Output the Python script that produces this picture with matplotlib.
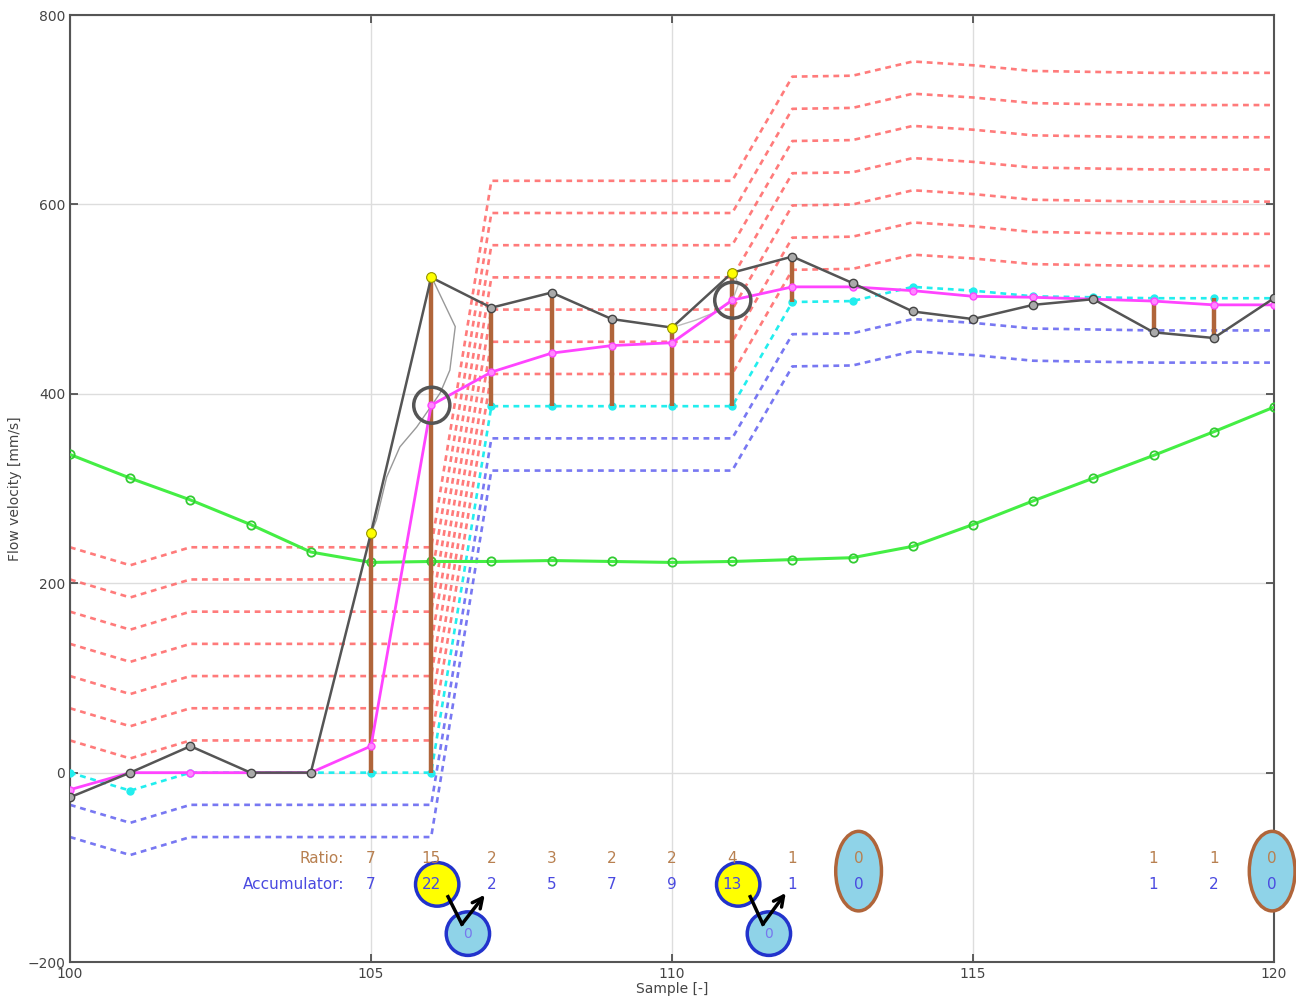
import matplotlib
matplotlib.use('Agg')
import matplotlib.pyplot as plt
from matplotlib.patches import Ellipse
import numpy as np

samples = np.arange(100, 121)

measured = [-26, 0, 28, 0, 0, 253, 523, 491, 507, 479, 470,
            528, 545, 517, 487, 479, 494, 500, 465, 459, 501]
filtered = [-18, 0, 0, 0, 0, 28, 388, 423, 443, 451, 454,
            499, 513, 513, 509, 503, 502, 500, 498, 494, 494]
reference = [0, -19, 0, 0, 0, 0, 0, 387, 387, 387, 387,
             387, 497, 498, 513, 509, 503, 502, 501, 501, 501]
green_vals = [336, 311, 288, 262, 233, 222, 223, 223, 224, 223, 222,
              223, 225, 227, 239, 262, 287, 311, 335, 360, 386]
band_step = 34
n_upper = 7
n_lower = 2

# samples where measured value is flagged (yellow)
flagged = [105, 106, 110, 111]
# stems between reference and measured
stem_samples = [105, 106, 107, 108, 109, 110, 111, 112, 118, 119]

ratio_x = [105, 106, 107, 108, 109, 110, 111, 112, 118, 119]
ratio_vals = ['7', '15', '2', '3', '2', '2', '4', '1', '1', '1']
accum_vals = ['7', '22', '2', '5', '7', '9', '13', '1', '1', '2']
zero_x = [113.1, 119.97]

# thin spline traces
spline_a_x = [105.01, 105.09, 105.26, 105.48, 105.76, 106.01, 106.15, 106.31, 106.40, 106.01]
spline_a_y = [254, 267, 312, 344, 365, 388, 401, 425, 471, 523]
spline_b_x = [110.0, 110.4, 110.75, 111.0, 111.1, 111.05]
spline_b_y = [470, 478, 487, 498, 515, 525]

# reset-arrows: (start, bottom, end)
arrow_pts = [[(106.28, -131), (106.51, -160), (106.89, -129)],
             [(111.30, -131), (111.51, -160), (111.89, -127)]]
reset_from = [(106.10, -118), (111.10, -118)]
reset_to = [(106.61, -170), (111.61, -170)]
marked = [106, 111]

RED = '#ff6464'
BLUE = '#6060f0'
CYAN = '#22eeee'
GREEN = '#44ee44'
MAGENTA = '#ff44ff'
BROWN = '#b0653a'
TXT_BROWN = '#b88050'
TXT_BLUE = '#4a4ae0'

fig = plt.figure(figsize=(12.96, 10.06), dpi=100)
ax = fig.add_axes([0.054, 0.0437, 0.929, 0.9413])

ref = np.array(reference, dtype=float)
dots = (0, (2.2, 1.8))
for k in range(1, n_upper + 1):
    ax.plot(samples, ref + k * band_step, color=RED, lw=1.9, ls=dots, alpha=0.85, zorder=2)
for k in range(1, n_lower + 1):
    ax.plot(samples, ref - k * band_step, color=BLUE, lw=1.9, ls=dots, alpha=0.85, zorder=2)

ax.plot(samples, reference, color=CYAN, lw=1.9, ls=dots, marker='o', ms=5,
        mfc=CYAN, mec=CYAN, zorder=3)

ax.plot(samples, green_vals, color=GREEN, lw=2.2, marker='o', ms=6,
        mfc='none', mec='#33cc33', mew=1.3, zorder=3)

meas = np.array(measured, dtype=float)
for s in stem_samples:
    i = s - 100
    ax.plot([s, s], [reference[i], measured[i]], color=BROWN, lw=3.2,
            solid_capstyle='butt', zorder=4)

ax.plot(spline_a_x, spline_a_y, color='#999999', lw=1.0, zorder=4)
ax.plot(spline_b_x, spline_b_y, color='#bbbbbb', lw=1.0, zorder=4)

ax.plot(samples, filtered, color=MAGENTA, lw=2.0, marker='o', ms=5,
        mfc='#ff88ff', mec=MAGENTA, zorder=5)
ax.plot(samples, measured, color='#555555', lw=1.8, marker='o', ms=6,
        mfc='#aaaaaa', mec='#444444', mew=1.0, zorder=6)
fi = [s - 100 for s in flagged]
ax.plot(samples[fi], meas[fi], ls='none', marker='o', ms=7,
        mfc='#ffff00', mec='#999900', mew=0.8, zorder=7)

# circles around filtered points of interest
for s in marked:
    ax.add_patch(Ellipse((s + 0.01, filtered[s - 100]), 0.6, 38, fill=False,
                         ec='#555555', lw=2.5, zorder=8))

# ratio / accumulator rows
ax.text(104.55, -91, 'Ratio:', color=TXT_BROWN, ha='right', va='center', fontsize=11)
ax.text(104.55, -118, 'Accumulator:', color=TXT_BLUE, ha='right', va='center', fontsize=11)

for (cx, cy) in reset_from:
    ax.add_patch(Ellipse((cx, cy), 0.72, 46, fc='#ffff00', ec='#2233cc', lw=2.5, zorder=8))
for (cx, cy) in reset_to:
    ax.add_patch(Ellipse((cx, cy), 0.72, 46, fc='#8fd3e8', ec='#2233cc', lw=2.5, zorder=8))
    ax.text(cx, cy, '0', color='#7777ee', ha='center', va='center', fontsize=10, zorder=9)

for zx in zero_x:
    ax.add_patch(Ellipse((zx, -104), 0.76, 84, fc='#8fd3e8', ec=BROWN, lw=2.5,
                         zorder=8, clip_on=False))
    ax.text(zx, -91, '0', color=TXT_BROWN, ha='center', va='center', fontsize=11, zorder=9, clip_on=False)
    ax.text(zx, -118, '0', color=TXT_BLUE, ha='center', va='center', fontsize=11, zorder=9, clip_on=False)

for x, r, a in zip(ratio_x, ratio_vals, accum_vals):
    ax.text(x, -91, r, color=TXT_BROWN, ha='center', va='center', fontsize=11, zorder=9)
    ax.text(x, -118, a, color=TXT_BLUE, ha='center', va='center', fontsize=11, zorder=9)

for p0, p1, p2 in arrow_pts:
    ax.plot([p0[0], p1[0]], [p0[1], p1[1]], color='black', lw=2.5, zorder=10)
    ax.annotate('', xy=p2, xytext=p1, zorder=10,
                arrowprops=dict(arrowstyle='->', color='black', lw=2.5,
                                mutation_scale=18, shrinkA=0, shrinkB=0))

ax.set_xlim(100, 120)
ax.set_ylim(-200, 800)
ax.set_xticks(range(100, 121, 5))
ax.set_yticks(range(-200, 801, 200))
ax.grid(True, color='#dddddd', lw=1.0)
ax.set_axisbelow(True)
ax.tick_params(direction='in', length=6, width=1.2, top=True, right=True,
               labelsize=10, colors='#444444', labelcolor='#444444')
for sp in ax.spines.values():
    sp.set_color('#555555')
    sp.set_linewidth(1.5)
ax.set_xlabel('Sample [-]', fontsize=10, color='#444444', labelpad=1)
ax.set_ylabel('Flow velocity [mm/s]', fontsize=10, color='#444444', labelpad=4)

fig.savefig('out.png', dpi=100)
